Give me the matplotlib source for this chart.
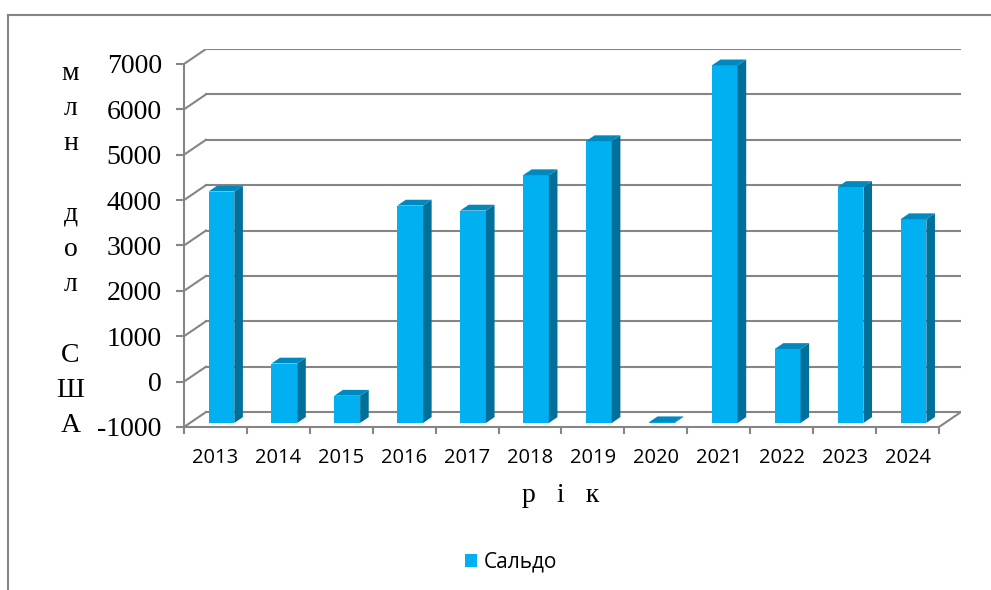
import numpy as np
import matplotlib
matplotlib.use("Agg")
import matplotlib.pyplot as plt
from matplotlib.patches import Polygon
from matplotlib.lines import Line2D

years = ["2013", "2014", "2015", "2016", "2017", "2018",
         "2019", "2020", "2021", "2022", "2023", "2024"]
saldo = [4100, 310, -400, 3790, 3680, 4460, 5210, -985, 6880, 630, 4200, 3490]
series_name = "Сальдо"
y_title = "млн дол США"
x_title = "р   і   к"

# pseudo-3d geometry (data units)
DX, DY = 0.35, 330          # depth of the back wall
F0, F1 = 0.27, 0.66         # front / back of bars as fraction of depth
W = 0.41                    # bar width
YMIN, YMAX = -1000, 7000

FRONT = "#00B0F0"
SIDE = "#00709A"
TOP = "#0089BE"
GRID = "#858585"

fig = plt.figure(figsize=(9.91, 5.90), dpi=100)
ax = fig.add_axes([184 / 991, 163 / 590, 777 / 991, 378 / 590])
ax.set_xlim(0, len(years) + DX)
ax.set_ylim(YMIN, YMAX + DY)

# walls / gridlines
for v in range(YMIN, YMAX + 1, 1000):
    ax.plot([DX, len(years) + DX], [v + DY, v + DY], color=GRID, lw=1.5, zorder=1)
    ax.plot([0, DX], [v, v + DY], color=GRID, lw=1.5, zorder=1)
ax.plot([len(years), len(years) + DX], [YMIN, YMIN + DY], color=GRID, lw=1.5, zorder=1)

# bars
x = np.arange(len(years)) + 0.5
vals = np.array(saldo, dtype=float)
bars = ax.bar(x + F0 * DX, vals - YMIN, bottom=YMIN + F0 * DY, width=W,
              color=FRONT, zorder=3, label=series_name)
d = F1 - F0
for xc, v in zip(x + F0 * DX, vals):
    xl, xr = xc - W / 2, xc + W / 2
    b = YMIN + F0 * DY
    t = v + F0 * DY
    side = Polygon([(xr, b), (xr + d * DX, b + d * DY), (xr + d * DX, t + d * DY), (xr, t)],
                   closed=True, facecolor=SIDE, edgecolor="none", zorder=3)
    top = Polygon([(xl, t), (xr, t), (xr + d * DX, t + d * DY), (xl + d * DX, t + d * DY)],
                  closed=True, facecolor=TOP, edgecolor="none", zorder=3)
    ax.add_patch(side)
    ax.add_patch(top)

# axes
for s in ["top", "right"]:
    ax.spines[s].set_visible(False)
ax.spines["left"].set_bounds(YMIN, YMAX)
ax.spines["bottom"].set_bounds(0, len(years))
for s in ["left", "bottom"]:
    ax.spines[s].set_color(GRID)
    ax.spines[s].set_linewidth(1.5)
    ax.spines[s].set_zorder(4)

ax.set_yticks(range(YMIN, YMAX + 1, 1000))
ax.set_yticklabels([str(v) for v in range(YMIN, YMAX + 1, 1000)],
                   fontfamily="Liberation Serif", fontsize=20)
ax.tick_params(axis="y", direction="out", length=6, width=1.5, color=GRID, pad=10)

ax.set_xticks(np.arange(len(years) + 1))
ax.set_xticklabels([])
ax.set_xticks(x, minor=True)
ax.set_xticklabels(years, minor=True, fontfamily="Open Sans", fontsize=14.5)
ax.tick_params(axis="x", which="major", direction="out", length=5, width=1.5, color=GRID)
ax.tick_params(axis="x", which="minor", length=0, pad=15)

# titles
fig.text(70.5 / 991, 1 - 249.5 / 590, "\n".join(y_title), ha="center", va="center",
         multialignment="center", fontfamily="Liberation Serif", fontsize=20, linespacing=1.54)
fig.text(561 / 991, 1 - 502 / 590, x_title, ha="center", va="baseline",
         fontfamily="Liberation Serif", fontsize=20)

# legend
fig.legend(handles=[bars], labels=[series_name], loc="center",
           bbox_to_anchor=(511 / 991, 1 - 562 / 590), frameon=False,
           prop={"family": "Open Sans", "size": 15},
           handlelength=0.6, handleheight=0.6, handletextpad=0.3)

# chart border (partly cut off in the reference)
fig.add_artist(Line2D([8 / 991, 8 / 991], [0, 1 - 15 / 590], color=GRID, lw=1.5,
                      transform=fig.transFigure))
fig.add_artist(Line2D([8 / 991, 1], [1 - 15 / 590, 1 - 15 / 590], color=GRID, lw=1.5,
                      transform=fig.transFigure))

fig.savefig("out.png", dpi=100)
